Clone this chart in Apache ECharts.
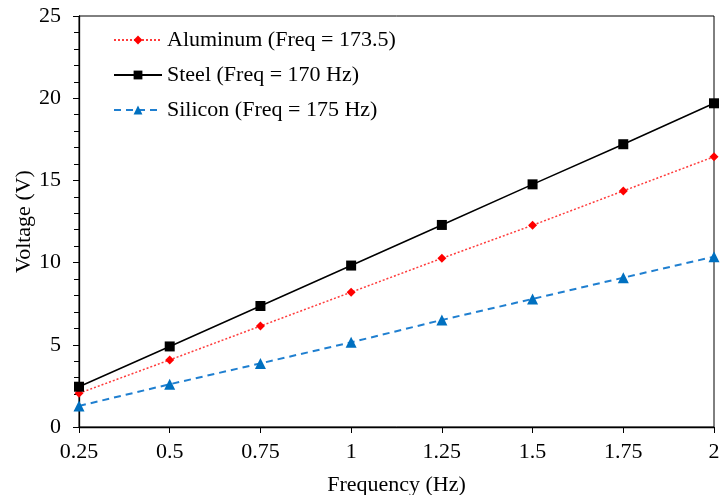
<!DOCTYPE html>
<html><head><meta charset="utf-8">
<script src="https://cdn.jsdelivr.net/npm/echarts@6/dist/echarts.min.js"></script>
<style>html,body{margin:0;padding:0;background:#fff}#c{width:728px;height:495px}</style>
</head><body><div id="c"></div>
<script>
const freq = [0.25, 0.5, 0.75, 1, 1.25, 1.5, 1.75, 2];
const aluminum = [2.05, 4.08, 6.14, 8.2, 10.26, 12.27, 14.36, 16.44];
const steel = [2.45, 4.9, 7.36, 9.82, 12.29, 14.76, 17.2, 19.69];
const silicon = [1.28, 2.6, 3.87, 5.15, 6.51, 7.79, 9.08, 10.36];
const names = ['Aluminum (Freq = 173.5)', 'Steel (Freq = 170 Hz)', 'Silicon (Freq = 175 Hz)'];
const font = 'Liberation Serif';
const fs = 22;
const pair = a => freq.map((x, i) => [x, a[i]]);
const chart = echarts.init(document.getElementById('c'));
chart.setOption({
  animation: false,
  textStyle: { fontFamily: font },
  grid: { left: 79, right: 14, top: 16, bottom: 68, containLabel: false, outerBoundsMode: 'none',
          show: true, borderColor: '#000', borderWidth: 1 },
  legend: {
    orient: 'vertical', left: 113, top: 29, padding: 0, itemGap: 13, itemWidth: 48, itemHeight: 11,
    textStyle: { fontFamily: font, fontSize: fs, color: '#000' },
    data: names
  },
  xAxis: {
    type: 'value', min: 0.25, max: 2, interval: 0.25,
    name: 'Frequency (Hz)', nameLocation: 'middle', nameGap: 47,
    nameTextStyle: { fontFamily: font, fontSize: fs, color: '#000' },
    axisLine: { lineStyle: { color: '#000', width: 1.3 } },
    axisTick: { show: true, inside: false, length: 6, lineStyle: { color: '#000' } },
    axisLabel: { fontFamily: font, fontSize: fs, color: '#000', margin: 14 },
    splitLine: { show: false }
  },
  yAxis: {
    type: 'value', min: 0, max: 25, interval: 5,
    name: 'Voltage (V)', nameLocation: 'middle', nameGap: 44, nameMoveOverlap: false,
    nameTextStyle: { fontFamily: font, fontSize: fs, color: '#000' },
    axisLine: { show: true, lineStyle: { color: '#000', width: 1.3 } },
    axisTick: { show: true, inside: false, length: 6, lineStyle: { color: '#000' } },
    minorTick: { show: true, splitNumber: 5, length: 5, lineStyle: { color: '#000' } },
    axisLabel: { fontFamily: font, fontSize: fs, color: '#000', margin: 18 },
    splitLine: { show: false }
  },
  series: [
    { name: names[0], type: 'line', data: pair(aluminum), symbol: 'diamond', symbolSize: 9,
      itemStyle: { color: '#FF0000' }, lineStyle: { color: '#FF3B3B', width: 1.5, type: [2, 2] } },
    { name: names[1], type: 'line', data: pair(steel), symbol: 'rect', symbolSize: 10,
      itemStyle: { color: '#000' }, lineStyle: { color: '#000', width: 1.5, type: 'solid' } },
    { name: names[2], type: 'line', data: pair(silicon), symbol: 'triangle', symbolSize: 11,
      itemStyle: { color: '#0070C0' }, lineStyle: { color: '#1F7FD0', width: 2, type: [7, 5] } }
  ]
});
</script></body></html>
